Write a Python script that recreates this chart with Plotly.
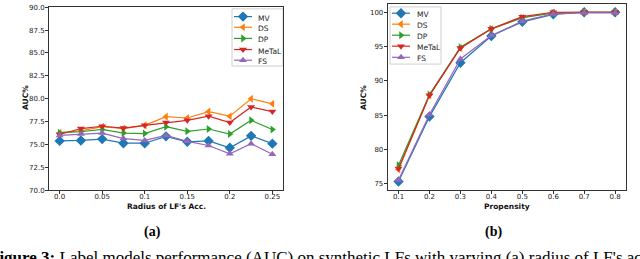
import plotly.graph_objects as go

# ---------------- data ----------------
series_names = ["MV", "DS", "DP", "MeTaL", "FS"]
series_colors = ["#1f77b4", "#ff7f0e", "#2ca02c", "#d62728", "#9467bd"]
series_symbols = ["diamond", "triangle-left", "triangle-right", "triangle-down", "triangle-up"]
series_sizes = [8, 7, 7, 7, 7]

radius = [0.0, 0.025, 0.05, 0.075, 0.1, 0.125, 0.15, 0.175, 0.2, 0.225, 0.25]
radius_ticks = [0.0, 0.05, 0.1, 0.15, 0.2, 0.25]
radius_ticklabels = ["0.0", "0.05", "0.1", "0.15", "0.2", "0.25"]
auc_a_ticks = [70.0, 72.5, 75.0, 77.5, 80.0, 82.5, 85.0, 87.5, 90.0]
auc_a_ticklabels = ["70.0", "72.5", "75.0", "77.5", "80.0", "82.5", "85.0", "87.5", "90.0"]

mv_a = [75.4, 75.45, 75.6, 75.15, 75.15, 75.9, 75.3, 75.4, 74.65, 75.95, 75.1]
ds_a = [76.3, 76.5, 76.95, 76.75, 77.1, 78.05, 77.9, 78.6, 78.1, 80.0, 79.45]
dp_a = [76.3, 76.4, 76.65, 76.25, 76.2, 76.95, 76.45, 76.7, 76.15, 77.65, 76.65]
metal_a = [76.1, 76.75, 77.0, 76.8, 77.1, 77.4, 77.65, 78.1, 77.4, 79.1, 78.6]
fs_a = [76.0, 76.15, 76.25, 75.65, 75.45, 76.0, 75.35, 74.9, 74.0, 75.1, 73.95]

propensity = [0.1, 0.2, 0.3, 0.4, 0.5, 0.6, 0.7, 0.8]
propensity_ticklabels = ["0.1", "0.2", "0.3", "0.4", "0.5", "0.6", "0.7", "0.8"]
auc_b_ticks = [75, 80, 85, 90, 95, 100]

mv_b = [75.35, 84.8, 92.65, 96.55, 98.6, 99.7, 100.0, 100.0]
ds_b = [77.1, 87.9, 94.8, 97.55, 99.2, 99.95, 100.0, 100.0]
dp_b = [77.7, 88.0, 94.9, 97.6, 99.2, 99.9, 100.0, 100.0]
metal_b = [77.25, 87.9, 94.8, 97.6, 99.35, 100.0, 100.0, 100.0]
fs_b = [75.55, 85.1, 93.2, 96.6, 98.7, 99.75, 99.9, 99.9]

# ---------------- figure ----------------
W, H = 640, 259


def px(x):
    return x / W


def py(y):
    return 1 - y / H


fig = go.Figure()

panel_a = [mv_a, ds_a, dp_a, metal_a, fs_a]
panel_b = [mv_b, ds_b, dp_b, metal_b, fs_b]

for name, col, sym, sz, ya in zip(series_names, series_colors, series_symbols, series_sizes, panel_a):
    fig.add_trace(go.Scatter(
        x=radius, y=ya, mode="lines+markers", name=name, showlegend=False,
        line=dict(color=col, width=1.2),
        marker=dict(symbol=sym, size=sz, color=col, line=dict(width=0)),
        xaxis="x", yaxis="y"))

for name, col, sym, sz, yb in zip(series_names, series_colors, series_symbols, series_sizes, panel_b):
    fig.add_trace(go.Scatter(
        x=propensity, y=yb, mode="lines+markers", name=name, showlegend=False,
        line=dict(color=col, width=1.2),
        marker=dict(symbol=sym, size=sz, color=col, line=dict(width=0)),
        xaxis="x2", yaxis="y2"))

# ---- manual legends (matplotlib-style compact boxes) ----
shapes = []
legend_specs = [
    # frame x0, x1, y0, y1, line x0, line x1, text x, item ys
    (232, 283, 5, 64, 234, 252, 256, [13, 24, 35.5, 47, 58]),
    (390, 441, 3, 62, 392, 410, 415, [9.5, 20.8, 32.2, 43.5, 55]),
]
annotations = []
for fx0, fx1, fy0, fy1, lx0, lx1, tx, ys in legend_specs:
    shapes.append(dict(type="rect", xref="paper", yref="paper",
                       x0=px(fx0), x1=px(fx1), y0=py(fy1), y1=py(fy0),
                       line=dict(color="#d0d0d0", width=1), fillcolor="rgba(255,255,255,0.85)",
                       layer="below"))
    for name, col, sym, sz, yy in zip(series_names, series_colors, series_symbols, series_sizes, ys):
        fig.add_trace(go.Scatter(
            x=[lx0, lx1], y=[yy, yy], mode="lines", showlegend=False, hoverinfo="skip",
            line=dict(color=col, width=1.2), xaxis="x3", yaxis="y3"))
        fig.add_trace(go.Scatter(
            x=[(lx0 + lx1) / 2], y=[yy], mode="markers", showlegend=False, hoverinfo="skip",
            marker=dict(symbol=sym, size=sz, color=col, line=dict(width=0)),
            xaxis="x3", yaxis="y3"))
        annotations.append(dict(text=name, x=px(tx), y=py(yy + 1.5), xref="paper", yref="paper",
                                xanchor="left", yanchor="middle", showarrow=False,
                                font=dict(family="DejaVu Sans", size=7.5, color="#222")))

# axis titles
title_font = dict(family="DejaVu Sans", size=7.5, color="#111")
annotations += [
    dict(text="<b>Radius of LF's Acc.</b>", x=px(166), y=py(209), xref="paper", yref="paper",
         xanchor="center", yanchor="middle", showarrow=False, font=title_font),
    dict(text="<b>Propensity</b>", x=px(507), y=py(209), xref="paper", yref="paper",
         xanchor="center", yanchor="middle", showarrow=False, font=title_font),
    dict(text="<b>AUC%</b>", x=px(25), y=py(97), xref="paper", yref="paper", textangle=-90,
         xanchor="center", yanchor="middle", showarrow=False, font=title_font),
    dict(text="<b>AUC%</b>", x=px(363), y=py(97), xref="paper", yref="paper", textangle=-90,
         xanchor="center", yanchor="middle", showarrow=False, font=title_font),
    dict(text="<b>(a)</b>", x=px(152), y=py(235.5), xref="paper", yref="paper",
         xanchor="center", yanchor="middle", showarrow=False,
         font=dict(family="Liberation Serif", size=14, color="#000")),
    dict(text="<b>(b)</b>", x=px(493), y=py(235.5), xref="paper", yref="paper",
         xanchor="center", yanchor="middle", showarrow=False,
         font=dict(family="Liberation Serif", size=14, color="#000")),
    dict(text="<b>Figure 3:</b> Label models performance (AUC) on synthetic LFs with varying (a) radius of LF's accuracy",
         x=px(-13), y=py(262), xref="paper", yref="paper",
         xanchor="left", yanchor="middle", showarrow=False,
         font=dict(family="Liberation Serif", size=17, color="#000")),
]

tick_font = dict(family="DejaVu Sans", size=7, color="#222")
axis_common = dict(showline=True, linecolor="#333", linewidth=1, mirror=True,
                   ticks="outside", tickwidth=0.8, tickcolor="#333",
                   showgrid=False, zeroline=False, tickfont=tick_font,
                   ticklabeloverflow="allow")

fig.update_layout(
    width=W, height=H, autosize=False,
    margin=dict(l=0, r=0, t=0, b=0),
    paper_bgcolor="white", plot_bgcolor="rgba(0,0,0,0)",
    showlegend=False,
    xaxis=dict(domain=[px(49), px(283)], range=[-0.0125, 0.2625], ticklen=2.5, ticklabelstandoff=-3,
               tickvals=radius_ticks, ticktext=radius_ticklabels, anchor="y", **axis_common),
    yaxis=dict(domain=[py(192.3), py(3.3)], range=[70, 90], ticklen=3, ticklabelstandoff=-1,
               tickvals=auc_a_ticks, ticktext=auc_a_ticklabels, anchor="x", **axis_common),
    xaxis2=dict(domain=[px(387.7), px(626)], range=[0.065, 0.835], ticklen=2.5, ticklabelstandoff=-3,
                tickvals=propensity, ticktext=propensity_ticklabels, anchor="y2", **axis_common),
    yaxis2=dict(domain=[py(192), 1.0], range=[74.1, 101.2], ticklen=3, ticklabelstandoff=-1,
                tickvals=auc_b_ticks, anchor="x2", **axis_common),
    xaxis3=dict(domain=[0, 1], range=[0, W], visible=False, anchor="y3", fixedrange=True),
    yaxis3=dict(domain=[0, 1], range=[H, 0], visible=False, anchor="x3", fixedrange=True),
    shapes=shapes,
    annotations=annotations,
)

fig.write_html("out.html", config={"displayModeBar": False},
               post_script="document.body.style.margin='0';document.body.style.padding='0';")
